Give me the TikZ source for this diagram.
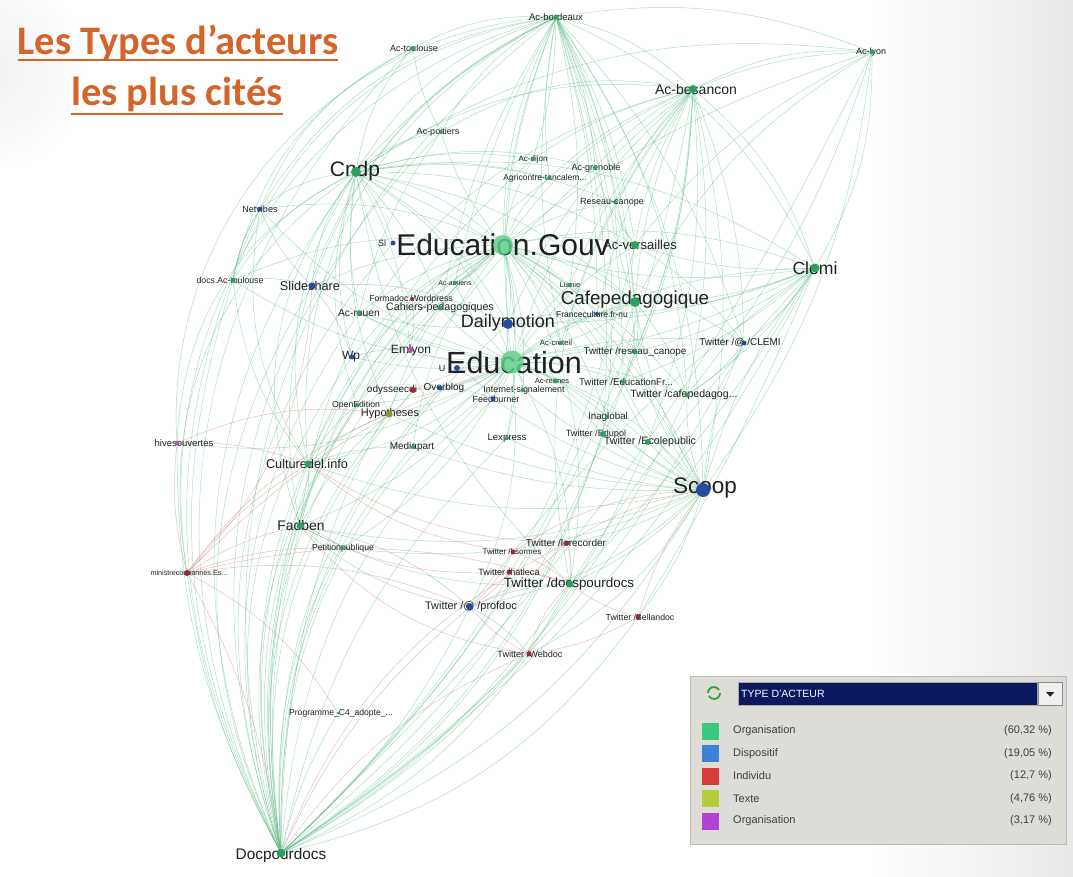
\documentclass[tikz,border=0pt]{standalone}
\usepackage{fontspec}
\setmainfont{Liberation Sans}
\newfontfamily\titlefont{Carlito}
\usetikzlibrary{calc}
\pgfdeclarelayer{bgfill}
\pgfdeclarelayer{edges}
\pgfsetlayers{bgfill,edges,main}
\definecolor{dotG}{RGB}{45,160,95}
\definecolor{bigG}{RGB}{95,205,140}
\definecolor{dotB}{RGB}{40,75,160}
\definecolor{dotR}{RGB}{150,40,55}
\definecolor{dotT}{RGB}{140,150,40}
\definecolor{dotP}{RGB}{185,80,190}
\definecolor{lblc}{RGB}{30,32,34}
\definecolor{edgeG}{RGB}{95,190,135}
\definecolor{edgeR}{RGB}{215,140,140}
\definecolor{edgeB}{RGB}{140,160,200}
\definecolor{titlec}{RGB}{213,100,42}
\definecolor{legbg}{RGB}{222,220,214}
\definecolor{legbd}{RGB}{190,188,182}
\definecolor{navy}{RGB}{12,24,96}
\definecolor{sqG}{RGB}{60,200,125}
\definecolor{sqB}{RGB}{60,130,215}
\definecolor{sqR}{RGB}{215,60,60}
\definecolor{sqT}{RGB}{180,205,60}
\definecolor{sqP}{RGB}{180,65,215}
\tikzset{
 dotbase/.style={circle,inner sep=0pt,draw=none},
 ng/.style={dotbase,minimum size=#1,fill=dotG},
 ngb/.style={dotbase,minimum size=#1,fill=bigG,fill opacity=0.85},
 nb/.style={dotbase,minimum size=#1,fill=dotB},
 nr/.style={dotbase,minimum size=#1,fill=dotR},
 nt/.style={dotbase,minimum size=#1,fill=dotT},
 np/.style={dotbase,minimum size=#1,fill=dotP},
 lbl/.style={inner sep=0pt,text=lblc,font=\fontsize{#1}{#1}\selectfont},
 eg/.style={draw=edgeG,line width=0.5pt,opacity=0.5},
 er/.style={draw=edgeR,line width=0.5pt,opacity=0.55},
 eb/.style={draw=edgeB,line width=0.5pt,opacity=0.55},
 legtxt/.style={inner sep=0pt,text=black!75,font=\fontsize{11}{11}\selectfont},
}
\begin{document}
\begin{tikzpicture}[x=1pt,y=-1pt]
\useasboundingbox (0,0) rectangle (1073,877);
\begin{pgfonlayer}{bgfill}
\fill[white] (0,0) rectangle (1073,877);
\shade[left color=white,right color=black!9] (870,0) rectangle (1073,877);
\fill[white] (0,0) rectangle (200,200);
\shade[inner color=black!6,outer color=white] (-10,70) circle[radius=100];
\end{pgfonlayer}

% ---------- title
\node[anchor=base,inner sep=0pt,text=titlec,font=\titlefont\bfseries\fontsize{40.5}{40.5}\selectfont] (t1) at (178,55) {Les Types d’acteurs};
\node[anchor=base,inner sep=0pt,text=titlec,font=\titlefont\bfseries\fontsize{40.5}{40.5}\selectfont] (t2) at (177,106) {les plus cités};
\draw[titlec,line width=2.2pt] ($(t1.base west)+(0,5)$) -- ($(t1.base east)+(0,5)$);
\draw[titlec,line width=2.2pt] ($(t2.base west)+(0,8)$) -- ($(t2.base east)+(0,8)$);

% ---------- labels
\node[lbl=9.5] (bord-l) at (556,17) {Ac-bordeaux};
\node[lbl=9] (toul-l) at (414,48) {Ac-toulouse};
\node[lbl=14] (besa-l) at (696,89) {Ac-besancon};
\node[lbl=9] (acly-l) at (871,52) {Ac-lyon};
\node[lbl=9] (poit-l) at (438,132) {Ac-poitiers};
\node[lbl=21] (cndp-l) at (355,171) {Cndp};
\node[lbl=8] (dijo-l) at (533,159) {Ac-dijon};
\node[lbl=9] (gren-l) at (596,168) {Ac-grenoble};
\node[lbl=8.5] (agri-l) at (545,178) {Agricontre-tancalem...};
\node[lbl=9] (rese-l) at (612,202) {Reseau-canope};
\node[lbl=13] (vers-l) at (640,245) {Ac-versailles};
\node[lbl=30] (egv-l) at (503,245) {Education.Gouv};
\node[lbl=9] (sl-l) at (382,243) {Sl};
\node[lbl=9] (netv-l) at (260,209) {Netvibes};
\node[lbl=8.7] (dact-l) at (230,280) {docs.Ac-toulouse};
\node[lbl=12.7] (slid-l) at (310,286) {Slideshare};
\node[lbl=7] (amie-l) at (455,283) {Ac-amiens};
\node[lbl=8.7] (form-l) at (411,299) {Formadoc.Wordpress};
\node[lbl=10.7] (cahi-l) at (440,308) {Cahiers-pedagogiques};
\node[lbl=10.3] (rouen-l) at (359,313) {Ac-rouen};
\node[lbl=18] (daily-l) at (508,323) {Dailymotion};
\node[lbl=7.5] (lumi-l) at (570,285) {Lumie};
\node[lbl=18.8] (cafe-l) at (635,300) {Cafepedagogique};
\node[lbl=8.5] (fran-l) at (592,314) {Franceculture.fr-nu};
\node[lbl=10] (tclemi-l) at (740,343) {Twitter /@ /CLEMI};
\node[lbl=7.7] (cret-l) at (556,343) {Ac-creteil};
\node[lbl=9.9] (trese-l) at (635,352) {Twitter /reseau\_canope};
\node[lbl=9] (univ-l) at (442,368) {U};
\node[lbl=30.5] (edu-l) at (514,363) {Education};
\node[lbl=7.5] (amie2-l) at (552,381) {Ac-rennes};
\node[lbl=9.7] (tedu-l) at (626,382) {Twitter /EducationFr...};
\node[lbl=10.6] (tcafe-l) at (684,395) {Twitter /cafepedagog...};
\node[lbl=8.9] (inter-l) at (524,390) {Internet-signalement};
\node[lbl=9] (feed-l) at (496,399) {Feedburner};
\node[lbl=12] (emly-l) at (411,350) {Emlyon};
\node[lbl=12] (wp-l) at (351,357) {Wp};
\node[lbl=10] (odys-l) at (392,390) {odysseecdi};
\node[lbl=10] (over-l) at (444,388) {Overblog};
\node[lbl=8.7] (open-l) at (356,405) {OpenEdition};
\node[lbl=11] (hypo-l) at (390,414) {Hypotheses};
\node[lbl=10] (medi-l) at (412,447) {Mediapart};
\node[lbl=9.6] (lexp-l) at (507,438) {Lexpress};
\node[lbl=9.8] (inag-l) at (608,417) {Inaglobal};
\node[lbl=9.1] (tedp-l) at (596,434) {Twitter /Edupol};
\node[lbl=10.7] (tlex-l) at (650,442) {Twitter /Ecolepublic};
\node[lbl=9.5] (arch-l) at (184,443) {hivesouvertes};
\node[lbl=12.7] (cult-l) at (307,464) {Culturedel.info};
\node[lbl=13.9] (fadb-l) at (301,526) {Fadben};
\node[lbl=8.7] (peti-l) at (343,548) {Petitionpublique};
\node[lbl=7.2] (mini-l) at (189,573) {ministrecoubannes.Es...};
\node[lbl=10] (trec-l) at (566,543) {Twitter /lerecorder};
\node[lbl=8] (tbso-l) at (512,552) {Twitter /bsormes};
\node[lbl=9.1] (thal-l) at (509,572) {Twitter /hatleca};
\node[lbl=13.4] (tdoc-l) at (569,584) {Twitter /docspourdocs};
\node[lbl=10.9] (tprof-l) at (471,607) {Twitter /@ /profdoc};
\node[lbl=8.7] (tbel-l) at (640,617) {Twitter /Bellandoc};
\node[lbl=9.1] (tweb-l) at (530,654) {Twitter /Webdoc};
\node[lbl=22.5] (scoop-l) at (705,488) {Scoop};
\node[lbl=17.6] (clemi-l) at (815,268) {Clemi};
\node[lbl=8.6] (prog-l) at (341,713) {Programme\_C4\_adopte\_...};
\node[lbl=15.4] (docp-l) at (281,856) {Docpourdocs};

% ---------- dots
\node[ng=5] (bord) at (556,17) {};
\node[ng=4] (toul) at (413,48) {};
\node[ng=8] (besa) at (693,89) {};
\node[ng=5] (acly) at (872,52) {};
\node[ng=4] (poit) at (441,132) {};
\node[ng=10] (cndp) at (356,172) {};
\node[ng=4] (dijo) at (533,159) {};
\node[ng=4] (gren) at (595,168) {};
\node[ng=4] (agri) at (549,178) {};
\node[ng=4] (rese) at (615,202) {};
\node[ngb=20] (egv) at (503,245) {};
\node[ng=8] (vers) at (635,245) {};
\node[nb=5] (sl) at (393,243) {};
\node[nb=5] (netv) at (260,209) {};
\node[ng=5] (dact) at (233,280) {};
\node[nb=7] (slid) at (312,286) {};
\node[ng=4] (amie) at (455,283) {};
\node[nr=4] (form) at (412,299) {};
\node[ng=5] (cahi) at (440,308) {};
\node[ng=5] (rouen) at (359,313) {};
\node[nb=10] (daily) at (508,324) {};
\node[ng=4] (lumi) at (570,285) {};
\node[ng=10] (cafe) at (635,302) {};
\node[nb=4] (fran) at (597,314) {};
\node[nb=5] (tclemi) at (744,343) {};
\node[ng=4] (cret) at (561,343) {};
\node[ng=5] (trese) at (635,352) {};
\node[ngb=23] (edu) at (512,362) {};
\node[nb=6] (univ) at (457,368) {};
\node[ng=5] (amie2) at (555,381) {};
\node[ng=4] (tedu) at (623,382) {};
\node[ng=5] (tcafe) at (687,395) {};
\node[ng=4] (inter) at (523,390) {};
\node[nb=5] (feed) at (493,399) {};
\node[np=6] (emly) at (410,350) {};
\node[nb=5] (wp) at (352,357) {};
\node[nr=6] (odys) at (413,390) {};
\node[nb=5] (over) at (440,388) {};
\node[ng=4] (open) at (357,405) {};
\node[nt=7] (hypo) at (389,414) {};
\node[ng=4] (medi) at (413,447) {};
\node[ng=4] (lexp) at (507,438) {};
\node[ng=4] (inag) at (607,417) {};
\node[ng=6] (tedp) at (603,434) {};
\node[ng=6] (tlex) at (648,442) {};
\node[np=5] (arch) at (177,443) {};
\node[ng=7] (cult) at (308,464) {};
\node[ng=7] (fadb) at (300,526) {};
\node[ng=4] (peti) at (342,548) {};
\node[nr=6] (mini) at (187,573) {};
\node[nr=5] (trec) at (567,543) {};
\node[nr=5] (tbso) at (513,552) {};
\node[nr=5] (thal) at (509,572) {};
\node[ng=7] (tdoc) at (570,584) {};
\node[nb=7] (tprof) at (470,607) {};
\node[nr=5] (tbel) at (638,617) {};
\node[nr=5] (tweb) at (529,654) {};
\node[nb=14] (scoop) at (703,490) {};
\node[ng=9] (clemi) at (815,268) {};
\node[ng=3] (prog) at (338,713) {};
\node[ng=9] (docp) at (281,853) {};

% ---------- edges
\begin{pgfonlayer}{edges}
\foreach \s/\t/\b in {
 docp/cndp/30, docp/netv/26, docp/dact/22, docp/slid/28, docp/egv/30, docp/edu/26, docp/fadb/10, docp/cult/16,
 docp/arch/14, docp/mini/10, docp/hypo/24, docp/open/24, docp/wp/26, docp/daily/24, docp/cafe/-14, docp/bord/34,
 docp/besa/-18, docp/medi/22, docp/peti/14, docp/rouen/26, docp/form/26, docp/emly/24, docp/odys/24, docp/cahi/28,
 docp/toul/36, docp/poit/32, docp/tdoc/-12, docp/tprof/-10, docp/prog/8, docp/vers/-16, docp/feed/20, docp/agri/30,
 docp/sl/30, docp/over/22, docp/lexp/16, docp/clemi/-14, docp/scoop/-18, docp/tbel/-20, docp/tweb/-14, docp/tcafe/-16,
 docp/inag/-20, docp/acly/-10, docp/tclemi/-14, docp/tlex/-18, docp/tedp/-18, docp/trese/-16, docp/gren/24, docp/dijo/28,
 cndp/egv/15, cndp/edu/18, cndp/daily/15, cndp/slid/-15, cndp/netv/-15, cndp/dact/-15, cndp/bord/20, cndp/toul/15,
 cndp/poit/15, cndp/besa/20, cndp/clemi/20, cndp/cafe/15, cndp/vers/15, cndp/rouen/-10, cndp/wp/-15, cndp/cult/-22,
 cndp/fadb/-28, cndp/arch/-30, cndp/mini/-32, cndp/hypo/-15, cndp/emly/12, cndp/sl/10, cndp/rese/15, cndp/gren/15,
 cndp/cahi/12, cndp/scoop/20, cndp/tdoc/-18, cndp/acly/20, cndp/agri/12, cndp/form/-12, cndp/open/-18, cndp/dijo/12,
 bord/egv/-12, bord/edu/-14, bord/cafe/10, bord/vers/10, bord/besa/15, bord/clemi/20, bord/dijo/8, bord/gren/10,
 bord/agri/-8, bord/rese/10, bord/daily/-12, bord/lumi/10, bord/acly/15, bord/toul/-15, bord/slid/-22, bord/netv/-25,
 bord/tcafe/15, bord/scoop/16, bord/fadb/-38, bord/cult/-34, bord/tedu/10, bord/cret/-10, bord/trese/10, bord/fran/8,
 bord/inag/12, bord/dact/-30, bord/poit/-15, bord/arch/-45, bord/mini/-42, bord/cndp/-10, bord/cahi/-10, bord/amie/-8,
 bord/tclemi/12, bord/tedp/10,
 besa/egv/-15, besa/edu/-15, besa/cafe/-10, besa/vers/-10, besa/clemi/15, besa/scoop/12, besa/gren/-10, besa/rese/-10,
 besa/dijo/-10, besa/acly/15, besa/tedu/10, besa/tcafe/10, besa/trese/10, besa/tclemi/10, besa/daily/-15, besa/lumi/-10,
 besa/fran/-10, besa/poit/-20, besa/cret/-10, besa/fadb/-35, besa/tdoc/-25, besa/tlex/12, besa/inag/12, besa/agri/-10,
 egv/edu/10, egv/daily/10, egv/cafe/10, egv/vers/10, egv/clemi/15, egv/scoop/15, egv/rouen/-10, egv/cahi/-10,
 egv/amie/10, egv/form/-10, egv/lumi/10, egv/fran/10, egv/cret/10, egv/slid/-10, egv/netv/-15, egv/wp/-15,
 egv/emly/-10, egv/hypo/-15, egv/tdoc/20, egv/fadb/-20, egv/cult/-20, egv/poit/10, egv/agri/10, egv/dijo/10,
 egv/rese/10, egv/tedu/10, egv/tcafe/10, egv/inter/10, egv/dact/-15, egv/open/-15, egv/medi/-15, egv/lexp/10,
 egv/trese/10, egv/tclemi/10, egv/inag/10, egv/tlex/10,
 edu/daily/10, edu/cafe/10, edu/scoop/15, edu/clemi/15, edu/tedu/10, edu/tcafe/10, edu/inter/10, edu/feed/10,
 edu/amie2/10, edu/cret/10, edu/univ/10, edu/lexp/10, edu/medi/10, edu/inag/10, edu/tedp/10, edu/tlex/10,
 edu/over/10, edu/odys/10, edu/open/10, edu/hypo/10, edu/tdoc/15, edu/tprof/15, edu/fadb/15, edu/cult/15,
 edu/arch/20, edu/peti/15, edu/trese/10, edu/tclemi/10, edu/emly/10, edu/wp/10, edu/slid/10, edu/rouen/10,
 edu/vers/10, edu/fran/10, edu/dact/15, edu/netv/15, edu/cahi/10, edu/lumi/10, edu/amie/10,
 scoop/tclemi/10, scoop/tcafe/10, scoop/tedu/10, scoop/tedp/10, scoop/tlex/5, scoop/inag/10, scoop/cafe/10, scoop/clemi/10,
 scoop/lexp/10, scoop/tdoc/10, scoop/tprof/15, scoop/trec/10, scoop/tbel/10, scoop/tweb/15, scoop/fadb/15, scoop/medi/10,
 scoop/daily/10, scoop/feed/10, scoop/inter/10, scoop/cult/15, scoop/hypo/10, scoop/trese/10, scoop/acly/-14, scoop/peti/15,
 clemi/cafe/10, clemi/vers/10, clemi/tclemi/10, clemi/trese/10, clemi/tcafe/10, clemi/acly/-15, clemi/daily/10, clemi/tedu/10,
 clemi/fran/10, clemi/tdoc/6, clemi/tbel/4, clemi/tprof/-8, clemi/tweb/-6, clemi/egv/12, clemi/edu/10,
 acly/besa/-10, acly/egv/-10, acly/cafe/-15, acly/tcafe/10, acly/vers/-12,
 cafe/fran/10, cafe/lumi/10, cafe/daily/10, cafe/tcafe/10, cafe/trese/10, cafe/cret/10, cafe/vers/10, cafe/rese/10, cafe/tedu/10,
 cult/fadb/10, fadb/peti/10, cult/hypo/10, fadb/tdoc/-15, fadb/tprof/-15, cult/medi/10, fadb/hypo/10, cult/open/10,
 dact/netv/10, dact/slid/10, dact/cult/-15, netv/cult/-20, toul/netv/-20, toul/dact/-25, poit/rouen/-10, toul/poit/-10,
 daily/rouen/10, daily/cahi/10, vers/gren/10, vers/rese/10, vers/tclemi/10}
 \draw[eg] (\s) to[bend left=\b] (\t);
\foreach \s/\t/\b in {
 mini/arch/10, mini/cult/10, mini/fadb/10, mini/prog/15, mini/tprof/15, mini/peti/10, mini/hypo/15, mini/tdoc/15,
 mini/docp/10, trec/tdoc/10, trec/tprof/10, tbso/tdoc/10, tbso/tprof/10, thal/tdoc/10, thal/tprof/10, tbel/tdoc/10,
 tbel/tweb/10, tweb/tdoc/15, tweb/tprof/10, trec/scoop/10, tbso/scoop/15, form/cahi/10, form/emly/10, odys/over/10,
 odys/hypo/10, thal/fadb/15, tbel/scoop/10, trec/cult/15, tbso/cult/15, tweb/fadb/20, mini/slid/-20, arch/hypo/15,
 arch/cult/10, tweb/docp/-15, trec/docp/-20, mini/edu/12, odys/edu/8}
 \draw[er] (\s) to[bend left=\b] (\t);
\foreach \s/\t/\b in {
 slid/netv/10, slid/daily/15, slid/wp/10, tprof/tdoc/10, tprof/tweb/10, daily/feed/10, daily/fran/10,
 netv/dact/-10, wp/emly/10, tclemi/tcafe/10, univ/feed/10, over/feed/10, tprof/fadb/-15, tprof/docp/-12}
 \draw[eb] (\s) to[bend left=\b] (\t);
\end{pgfonlayer}

% ---------- legend
\node[draw=legbd,fill=legbg,anchor=north west,minimum width=376,minimum height=168,inner sep=0pt] (leg) at (690,676) {};
\node[circle,minimum size=12,inner sep=0pt] (icon) at (714,693) {};
\draw[green!55!black!80,line width=1.8pt] ($(icon.center)+(6,0)$) arc[start angle=0,end angle=150,radius=6];
\draw[green!55!black!80,line width=1.8pt] ($(icon.center)+(-6,0)$) arc[start angle=180,end angle=330,radius=6];
\node[fill=navy,draw=black!35,anchor=north west,minimum width=299,minimum height=23,inner sep=0pt] (dd) at (738,682) {};
\node[anchor=west,inner sep=0pt,text=white,font=\fontsize{10.5}{10.5}\selectfont] (ddt) at (741,693.5) {TYPE D'ACTEUR};
\node[fill=black!6,draw=black!45,anchor=north west,minimum width=24,minimum height=23,inner sep=0pt] (ddb) at (1038,682) {};
\fill[black!85] ($(ddb.center)+(-4,-1.5)$) -- ($(ddb.center)+(4,-1.5)$) -- ($(ddb.center)+(0,3)$) -- cycle;
\foreach \i/\c/\n/\p in {0/sqG/Organisation/{(60,32 \%)}, 1/sqB/Dispositif/{(19,05 \%)}, 2/sqR/Individu/{(12,7 \%)}, 3/sqT/Texte/{(4,76 \%)}, 4/sqP/Organisation/{(3,17 \%)}}{
 \node[fill=\c,minimum size=17,inner sep=0pt] (sq\i) at (710,731+22.5*\i) {};
 \node[legtxt,anchor=west] (sn\i) at (733,731+22.5*\i) {\n};
 \node[legtxt,anchor=east] (sp\i) at (1052,731+22.5*\i) {\p};
}
\end{tikzpicture}
\end{document}
